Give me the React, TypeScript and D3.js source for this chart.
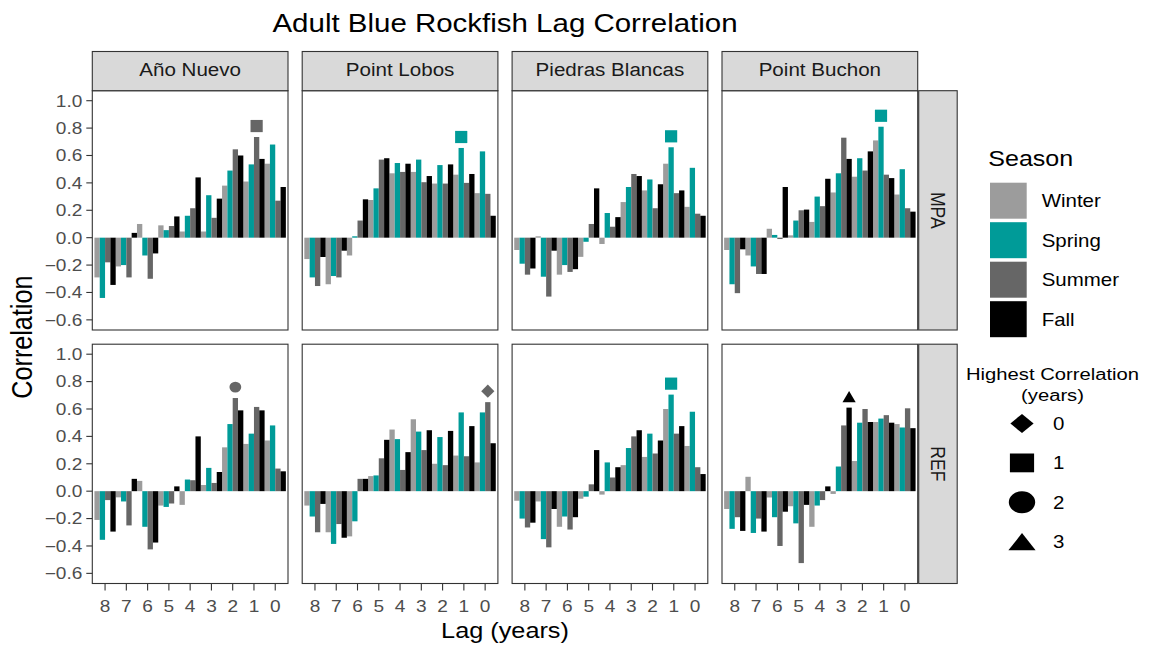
import React from "react";
import * as d3 from "d3";

// ---------- data ----------
const LAGS = ["8", "7", "6", "5", "4", "3", "2", "1", "0"];
const SEASONS = ["Winter", "Spring", "Summer", "Fall"];
const SITES = ["Año Nuevo", "Point Lobos", "Piedras Blancas", "Point Buchon"];
const PROTECTION = ["MPA", "REF"];
const Y_TICKS = [-0.6, -0.4, -0.2, 0.0, 0.2, 0.4, 0.6, 0.8, 1.0];
const SHAPE_LABELS = ["0", "1", "2", "3"];

// each panel: rows = Winter, Spring, Summer, Fall ; columns = lag 8 .. 0
const anoNuevoMPA = [
  [-0.29, -0.21, 0.10, 0.09, 0.045, 0.045, 0.38, 0.41, 0.54],
  [-0.44, -0.20, -0.13, 0.055, 0.16, 0.31, 0.49, 0.535, 0.68],
  [-0.18, -0.29, -0.30, 0.085, 0.215, 0.145, 0.645, 0.735, 0.27],
  [-0.345, 0.035, -0.115, 0.155, 0.44, 0.285, 0.60, 0.575, 0.37],
];
const pointLobosMPA = [
  [-0.156, -0.34, -0.13, 0.275, 0.47, 0.48, 0.395, 0.46, 0.325],
  [-0.29, -0.28, 0.01, 0.36, 0.545, 0.57, 0.53, 0.655, 0.63],
  [-0.353, -0.29, 0.125, 0.57, 0.48, 0.405, 0.395, 0.40, 0.32],
  [-0.141, -0.095, 0.28, 0.58, 0.54, 0.45, 0.535, 0.465, 0.16],
];
const piedrasBlancasMPA = [
  [-0.09, 0.01, -0.27, -0.14, -0.046, 0.26, 0.345, 0.54, 0.225],
  [-0.19, -0.285, -0.20, -0.03, 0.18, 0.37, 0.425, 0.66, 0.51],
  [-0.27, -0.43, -0.25, 0.10, 0.08, 0.465, 0.215, 0.325, 0.175],
  [-0.225, -0.095, -0.23, 0.36, 0.15, 0.45, 0.39, 0.345, 0.16],
];
const pointBuchonMPA = [
  [-0.09, -0.13, 0.065, 0.017, 0.115, 0.33, 0.445, 0.71, 0.315],
  [-0.34, -0.21, 0.02, 0.125, 0.30, 0.47, 0.58, 0.81, 0.50],
  [-0.405, -0.265, -0.01, 0.20, 0.23, 0.73, 0.49, 0.46, 0.215],
  [-0.085, -0.265, 0.37, 0.205, 0.43, 0.575, 0.63, 0.435, 0.19],
];
const anoNuevoREF = [
  [-0.21, -0.045, 0.075, -0.105, -0.10, 0.045, 0.32, 0.345, 0.37],
  [-0.355, -0.075, -0.26, -0.115, 0.085, 0.17, 0.49, 0.42, 0.48],
  [-0.065, -0.25, -0.425, -0.09, 0.08, 0.06, 0.68, 0.615, 0.165],
  [-0.295, 0.09, -0.375, 0.035, 0.40, 0.14, 0.59, 0.59, 0.145],
];
const pointLobosREF = [
  [-0.105, -0.30, -0.33, 0.11, 0.45, 0.525, 0.20, 0.26, 0.21],
  [-0.185, -0.385, -0.22, 0.115, 0.38, 0.435, 0.395, 0.575, 0.575],
  [-0.30, -0.24, 0.09, 0.24, 0.155, 0.30, 0.19, 0.255, 0.65],
  [-0.093, -0.34, 0.09, 0.375, 0.285, 0.445, 0.44, 0.475, 0.35],
];
const piedrasBlancasREF = [
  [-0.07, -0.075, -0.26, -0.055, -0.025, 0.19, 0.25, 0.60, 0.33],
  [-0.20, -0.35, -0.185, -0.04, 0.21, 0.315, 0.42, 0.705, 0.58],
  [-0.265, -0.41, -0.28, 0.05, 0.10, 0.40, 0.275, 0.42, 0.175],
  [-0.23, -0.13, -0.19, 0.30, 0.175, 0.445, 0.37, 0.475, 0.125],
];
const pointBuchonREF = [
  [-0.13, 0.105, -0.046, -0.11, -0.26, -0.02, 0.22, 0.505, 0.49],
  [-0.275, -0.305, -0.19, -0.235, -0.105, 0.18, 0.50, 0.53, 0.465],
  [-0.19, -0.20, -0.40, -0.525, -0.065, 0.48, 0.60, 0.555, 0.605],
  [-0.29, -0.295, -0.15, -0.10, 0.035, 0.61, 0.505, 0.50, 0.46],
];

const PANELS_MPA = [anoNuevoMPA, pointLobosMPA, piedrasBlancasMPA, pointBuchonMPA];
const PANELS_REF = [anoNuevoREF, pointLobosREF, piedrasBlancasREF, pointBuchonREF];

// highest correlation per panel (MPA row then REF row)
const BEST_LAG_MPA = ["1", "1", "1", "1"];
const BEST_SEASON_MPA = ["Summer", "Spring", "Spring", "Spring"];
const BEST_LAG_REF = ["2", "0", "1", "3"];
const BEST_SEASON_REF = ["Summer", "Summer", "Spring", "Fall"];

// ---------- style ----------
const COLORS: Record<string, string> = {
  Winter: "#9c9c9c",
  Spring: "#009b98",
  Summer: "#666666",
  Fall: "#000000",
};
const FONT = "'Liberation Sans', Arial, Helvetica, sans-serif";
const SX = 1.17; // horizontal glyph stretch seen in the reference
const W = 1151;
const H = 646;
const PANEL_X0 = 92.3;
const PANEL_W = 195.7;
const PANEL_STEP = 209.9;
const ROW_Y0 = [90.7, 344.2];
const PANEL_H = 239.3;
const MARK_OFFSET = 0.08;

function Txt(props: any) {
  const { x, y, size, anchor = "start", fill = "#000", rotate, children, dy } = props;
  return (
    <text
      transform={`translate(${x},${y}) scale(${SX},1)${rotate ? ` rotate(${rotate})` : ""}`}
      fontSize={size}
      textAnchor={anchor}
      fill={fill}
      fontFamily={FONT}
      dy={dy}
    >
      {children}
    </text>
  );
}

function shapePath(lag: string, cx: number, cy: number, hw: number, hh: number) {
  if (lag === "0") {
    return `M${cx},${cy - hh}L${cx + hw},${cy}L${cx},${cy + hh}L${cx - hw},${cy}Z`;
  }
  if (lag === "1") {
    return `M${cx - hw},${cy - hh}H${cx + hw}V${cy + hh}H${cx - hw}Z`;
  }
  if (lag === "2") {
    return `M${cx - hw},${cy}A${hw},${hh} 0 1,0 ${cx + hw},${cy}A${hw},${hh} 0 1,0 ${cx - hw},${cy}Z`;
  }
  return `M${cx},${cy - hh}L${cx + hw},${cy + hh}L${cx - hw},${cy + hh}Z`;
}

const fmt = (v: number) => d3.format(".1f")(v).replace("-", "\u2212");

export default function App() {
  const yDomain: [number, number] = [-0.674, 1.073];
  const panels: any[] = [];

  PROTECTION.forEach((prot, r) => {
    const yTop = ROW_Y0[r];
    const y = d3.scaleLinear().domain(yDomain).range([yTop + PANEL_H, yTop]);
    const rowData = r === 0 ? PANELS_MPA : PANELS_REF;
    const bestLag = r === 0 ? BEST_LAG_MPA : BEST_LAG_REF;
    const bestSeason = r === 0 ? BEST_SEASON_MPA : BEST_SEASON_REF;

    SITES.forEach((site, c) => {
      const x0 = PANEL_X0 + c * PANEL_STEP;
      const x = d3
        .scaleBand()
        .domain(LAGS)
        .range([x0, x0 + PANEL_W])
        .paddingInner(0)
        .paddingOuter(0.1);
      const xs = d3.scaleBand().domain(SEASONS).range([0, x.bandwidth()]);
      const data = rowData[c];
      const bars: any[] = [];
      SEASONS.forEach((s, si) => {
        LAGS.forEach((lag, li) => {
          const v = data[si][li];
          const bx = (x(lag) as number) + (xs(s) as number);
          bars.push(
            <rect
              key={`${s}-${lag}`}
              x={bx}
              width={xs.bandwidth()}
              y={Math.min(y(v), y(0))}
              height={Math.abs(y(v) - y(0))}
              fill={COLORS[s]}
            />
          );
        });
      });
      // marker
      const bl = bestLag[c];
      const bs = bestSeason[c];
      const bv = data[SEASONS.indexOf(bs)][LAGS.indexOf(bl)];
      const mx = (x(bl) as number) + (xs(bs) as number) + xs.bandwidth() / 2;
      const my = y(bv + MARK_OFFSET);
      const msz: Record<string, [number, number]> = {
        "0": [6.6, 6.6],
        "1": [6.1, 6.1],
        "2": [5.9, 5.4],
        "3": [6.6, 5.6],
      };
      const [hw, hh] = msz[bl];

      panels.push(
        <g key={`${prot}-${site}`}>
          <rect x={x0} y={yTop} width={PANEL_W} height={PANEL_H} fill="#fff" />
          {bars}
          <path d={shapePath(bl, mx, my, hw, hh)} fill={COLORS[bs]} />
          <rect
            x={x0}
            y={yTop}
            width={PANEL_W}
            height={PANEL_H}
            fill="none"
            stroke="#333333"
            strokeWidth={1.1}
          />
          {/* y axis on first column */}
          {c === 0 &&
            Y_TICKS.map((t) => (
              <g key={t}>
                <line x1={x0 - 6} x2={x0} y1={y(t)} y2={y(t)} stroke="#333333" strokeWidth={1.1} />
                <Txt x={x0 - 10} y={y(t)} size={16.3} anchor="end" fill="#4d4d4d" dy="0.36em">
                  {fmt(t)}
                </Txt>
              </g>
            ))}
          {/* x axis on bottom row */}
          {r === 1 &&
            LAGS.map((lag) => {
              const tx = (x(lag) as number) + x.bandwidth() / 2;
              return (
                <g key={lag}>
                  <line
                    x1={tx}
                    x2={tx}
                    y1={yTop + PANEL_H}
                    y2={yTop + PANEL_H + 7}
                    stroke="#333333"
                    strokeWidth={1.1}
                  />
                  <Txt x={tx} y={611.5} size={16.3} anchor="middle" fill="#4d4d4d">
                    {lag}
                  </Txt>
                </g>
              );
            })}
          {/* top strips */}
          {r === 0 && (
            <g>
              <rect
                x={x0}
                y={51.5}
                width={PANEL_W}
                height={yTop - 51.5}
                fill="#d9d9d9"
                stroke="#333333"
                strokeWidth={1.1}
              />
              <Txt x={x0 + PANEL_W / 2} y={75.6} size={17.6} anchor="middle" fill="#1a1a1a">
                {site}
              </Txt>
            </g>
          )}
          {/* right strips */}
          {c === SITES.length - 1 && (
            <g>
              <rect
                x={x0 + PANEL_W + 1}
                y={yTop}
                width={38.5}
                height={PANEL_H}
                fill="#d9d9d9"
                stroke="#333333"
                strokeWidth={1.1}
              />
              <Txt
                x={x0 + PANEL_W + 1 + 19.25}
                y={yTop + PANEL_H / 2}
                size={17.6}
                anchor="middle"
                fill="#1a1a1a"
                rotate={90}
                dy="0.36em"
              >
                {prot}
              </Txt>
            </g>
          )}
        </g>
      );
    });
  });

  const centerX = PANEL_X0 + (3 * PANEL_STEP + PANEL_W) / 2;

  return (
    <svg
      width={W}
      height={H}
      viewBox={`0 0 ${W} ${H}`}
      style={{ position: "absolute", left: 0, top: 0, background: "#fff" }}
    >
      <rect x={0} y={0} width={W} height={H} fill="#fff" />
      <Txt x={centerX} y={31.5} size={25.2} anchor="middle">
        Adult Blue Rockfish Lag Correlation
      </Txt>
      {panels}
      <Txt x={31.7} y={(ROW_Y0[0] + ROW_Y0[1] + PANEL_H) / 2} size={25.2} anchor="middle" rotate={-90}>
        Correlation
      </Txt>
      <Txt x={centerX} y={638} size={21.6} anchor="middle">
        Lag (years)
      </Txt>

      {/* Season legend */}
      <Txt x={988.3} y={166} size={21.4}>
        Season
      </Txt>
      {SEASONS.map((s, i) => (
        <g key={s}>
          <rect x={990} y={182.7 + i * 39.5} width={36.7} height={36} fill={COLORS[s]} />
          <Txt x={1041.7} y={182.7 + i * 39.5 + 18} size={17.5} dy="0.36em">
            {s}
          </Txt>
        </g>
      ))}

      {/* Shape legend */}
      <Txt x={1052.5} y={380} size={17.3} anchor="middle">
        Highest Correlation
      </Txt>
      <Txt x={1052.5} y={400.5} size={17.3} anchor="middle">
        (years)
      </Txt>
      {SHAPE_LABELS.map((lab, i) => {
        const cy = 423.5 + i * 39.4;
        const dims: Record<string, [number, number]> = {
          "0": [11.6, 9.6],
          "1": [12.1, 9.4],
          "2": [13.2, 11],
          "3": [13.6, 8.6],
        };
        const [hw, hh] = dims[lab];
        return (
          <g key={lab}>
            <path d={shapePath(lab, 1022, cy, hw, hh)} fill="#000" />
            <Txt x={1053} y={cy} size={17.5} dy="0.36em">
              {lab}
            </Txt>
          </g>
        );
      })}
    </svg>
  );
}
